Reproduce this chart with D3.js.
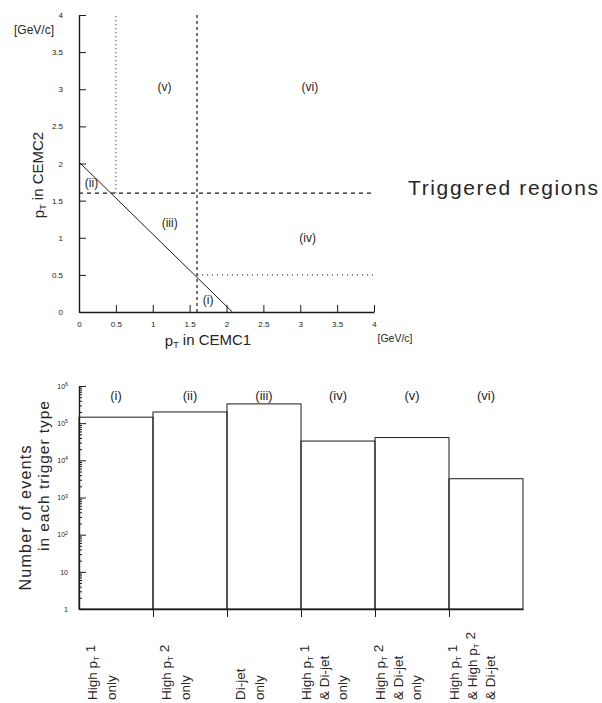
<!DOCTYPE html>
<html>
<head>
<meta charset="utf-8">
<script src="https://cdn.jsdelivr.net/npm/d3@7"></script>
<style>
  html, body { margin: 0; padding: 0; background: #fff; }
  svg { display: block; font-family: "Liberation Sans", Arial, sans-serif; }
  .tick text { fill: #222; }
</style>
</head>
<body>
<svg id="chart" width="602" height="703"></svg>
<script>
// ---- Trigger-region diagram (pT in CEMC1 vs pT in CEMC2) ----
const ptTicks = [0, 0.5, 1, 1.5, 2, 2.5, 3, 3.5, 4];
const highPtCut = 1.6;          // single high-pT threshold (both calorimeters)
const lowPtCut = 0.5;           // low threshold
const diJetLine = [[0, 2.02], [2.08, 0]];   // pT1 + pT2 di-jet boundary
const regionNames = ["(i)", "(ii)", "(iii)", "(iv)", "(v)", "(vi)"];
// label anchor of each region, in GeV/c
const regionLabelX = [1.75, 0.17, 1.23, 3.1, 1.16, 3.13];
const regionLabelY = [0.17, 1.74, 1.2, 1.0, 3.03, 3.03];

// ---- Event counts per trigger type ----
const triggerTypes = [
  ["High p_T 1", "only"],
  ["High p_T 2", "only"],
  ["Di-jet", "only"],
  ["High p_T 1", "& Di-jet", "only"],
  ["High p_T 2", "& Di-jet", "only"],
  ["High p_T 1", "& High p_T 2", "& Di-jet"]
];
const eventCounts = [1.45e5, 2.0e5, 3.3e5, 3.3e4, 4.1e4, 3.2e3];
const countTicks = [1, 10, 100, 1e3, 1e4, 1e5, 1e6];

const svg = d3.select("#chart");
const ink = "#1a1a1a";
const textInk = "#262626";

// ======================= upper panel =======================
const x = d3.scaleLinear().domain([0, 4]).range([79, 374]);
const y = d3.scaleLinear().domain([0, 4]).range([312, 15]);
const upper = svg.append("g");

upper.append("g")
  .attr("transform", `translate(0,${y(0)})`)
  .call(d3.axisBottom(x).tickValues(ptTicks).tickFormat(d3.format("~g"))
    .tickSizeInner(-7).tickSizeOuter(0).tickPadding(9))
  .call(g => g.selectAll("text").attr("font-size", 8))
  .call(g => g.select(".domain").attr("stroke", ink).attr("stroke-width", 1.4))
  .call(g => g.selectAll(".tick line").attr("stroke", ink));

upper.append("g")
  .attr("transform", `translate(${x(0)},0)`)
  .call(d3.axisLeft(y).tickValues(ptTicks).tickFormat(d3.format("~g"))
    .tickSizeInner(-7).tickSizeOuter(0).tickPadding(16))
  .call(g => g.selectAll("text").attr("font-size", 8))
  .call(g => g.select(".domain").attr("stroke", ink).attr("stroke-width", 1.4))
  .call(g => g.selectAll(".tick line").attr("stroke", ink));

const seg = (x1, y1, x2, y2, dash, w) => upper.append("line")
  .attr("x1", x(x1)).attr("y1", y(y1)).attr("x2", x(x2)).attr("y2", y(y2))
  .attr("stroke", ink).attr("stroke-width", w || 1)
  .attr("stroke-dasharray", dash || null);

seg(lowPtCut, highPtCut, lowPtCut, 4, "1,3");         // low cut on CEMC1
seg(highPtCut, 0, highPtCut, 4, "3,3", 1.2);          // high cut on CEMC1
seg(0, highPtCut, 4, highPtCut, "4,4", 1.2);          // high cut on CEMC2
seg(highPtCut, lowPtCut, 4, lowPtCut, "1,4");         // low cut on CEMC2
upper.append("path")
  .attr("d", d3.line().x(d => x(d[0])).y(d => y(d[1]))(diJetLine))
  .attr("fill", "none").attr("stroke", ink).attr("stroke-width", 1);

upper.selectAll("text.region").data(regionNames).join("text")
  .attr("class", "region")
  .attr("x", (d, i) => x(regionLabelX[i]))
  .attr("y", (d, i) => y(regionLabelY[i]))
  .attr("dy", "0.35em").attr("text-anchor", "middle")
  .attr("font-size", 12).attr("fill", textInk)
  .text(d => d);

upper.append("text").attr("x", 34).attr("y", 34).attr("text-anchor", "middle")
  .attr("font-size", 12).attr("fill", textInk).text("[GeV/c]");
upper.append("text").attr("x", 395).attr("y", 342).attr("text-anchor", "middle")
  .attr("font-size", 10.5).attr("fill", textInk).text("[GeV/c]");

function ptText(sel, str) {
  const parts = str.split("_T");
  sel.append("tspan").text(parts[0]);
  if (parts.length > 1) {
    sel.append("tspan").attr("font-size", "0.6em").attr("dy", "0.25em").text("T");
    sel.append("tspan").attr("dy", "-0.25em").text(parts[1]);
  }
}

upper.append("text").attr("x", 208).attr("y", 346).attr("text-anchor", "middle")
  .attr("font-size", 15).attr("fill", textInk)
  .call(ptText, "p_T in CEMC1");
upper.append("text").attr("transform", "translate(44,175) rotate(-90)")
  .attr("text-anchor", "middle").attr("font-size", 15).attr("fill", textInk)
  .call(ptText, "p_T in CEMC2");

svg.append("text").attr("x", 408).attr("y", 195)
  .attr("font-size", 21).attr("fill", textInk)
  .attr("textLength", 190).attr("lengthAdjust", "spacing")
  .text("Triggered regions");

// ======================= lower panel =======================
const bx = d3.scaleBand().domain(regionNames).range([79, 523]).padding(0);
const by = d3.scaleLog().domain([1, 1e6]).range([609, 386]);
const lower = svg.append("g");

// bars drawn as open boxes
lower.selectAll("rect.bar").data(eventCounts).join("rect")
  .attr("class", "bar")
  .attr("x", (d, i) => bx(regionNames[i]))
  .attr("width", bx.bandwidth())
  .attr("y", d => by(d))
  .attr("height", d => by(1) - by(d))
  .attr("fill", "none").attr("stroke", ink).attr("stroke-width", 1);

// log axis: major decades labelled, minor ticks inside
const minor = [];
for (let e = 0; e < 6; e++) for (let m = 2; m <= 9; m++) minor.push(m * Math.pow(10, e));
lower.append("g").attr("transform", `translate(${bx.range()[0]},0)`)
  .call(d3.axisLeft(by).tickValues(minor).tickSize(-3).tickFormat(""))
  .call(g => g.select(".domain").remove())
  .call(g => g.selectAll(".tick line").attr("stroke", ink));
lower.append("g").attr("transform", `translate(${bx.range()[0]},0)`)
  .call(d3.axisLeft(by).tickValues(countTicks).tickSizeInner(-7).tickSizeOuter(0)
    .tickPadding(12).tickFormat(""))
  .call(g => g.select(".domain").attr("stroke", ink).attr("stroke-width", 1.4))
  .call(g => g.selectAll(".tick line").attr("stroke", ink))
  .call(g => g.selectAll(".tick").each(function (d) {
    const t = d3.select(this).append("text")
      .attr("x", -11).attr("dy", "0.32em").attr("text-anchor", "end")
      .attr("font-size", 7).attr("fill", textInk);
    const e = Math.round(Math.log10(d));
    if (e === 0) t.text("1");
    else if (e === 1) t.text("10");
    else {
      t.append("tspan").text("10");
      t.append("tspan").attr("font-size", "0.75em").attr("dy", "-0.5em").text(e);
    }
  }));

// baseline with ticks at bar edges
lower.append("g").attr("transform", `translate(0,${by(1)})`)
  .call(d3.axisBottom(d3.scaleLinear().domain(bx.range()).range(bx.range()))
    .tickValues(regionNames.slice(1).map(r => bx(r)))
    .tickSizeInner(8).tickSizeOuter(0).tickFormat(""))
  .call(g => g.select(".domain").attr("stroke", ink).attr("stroke-width", 1.4))
  .call(g => g.selectAll(".tick line").attr("stroke", ink));

// region names above bars
lower.selectAll("text.cat").data(regionNames).join("text")
  .attr("class", "cat")
  .attr("x", d => bx(d) + bx.bandwidth() / 2).attr("y", 400)
  .attr("text-anchor", "middle").attr("font-size", 13).attr("fill", textInk)
  .text(d => d);

// trigger-type captions, rotated
triggerTypes.forEach((lines, i) => {
  const center = bx(regionNames[i]) + 23;
  const step = lines.length === 2 ? 19.5 : 18;
  lines.forEach((ln, j) => {
    const cx = center + (j - (lines.length - 1) / 2) * step + 4.5;
    lower.append("text")
      .attr("transform", `translate(${cx},700) rotate(-90)`)
      .attr("font-size", 13.5).attr("fill", textInk)
      .call(ptText, ln);
  });
});

// y title
lower.append("text").attr("transform", "translate(31,518) rotate(-90)")
  .attr("text-anchor", "middle").attr("font-size", 16).attr("fill", textInk)
  .attr("textLength", 145).attr("lengthAdjust", "spacing")
  .text("Number of events");
lower.append("text").attr("transform", "translate(49,476) rotate(-90)")
  .attr("text-anchor", "middle").attr("font-size", 15.5).attr("fill", textInk)
  .attr("textLength", 150).attr("lengthAdjust", "spacing")
  .text("in each trigger type");
</script>
</body>
</html>
